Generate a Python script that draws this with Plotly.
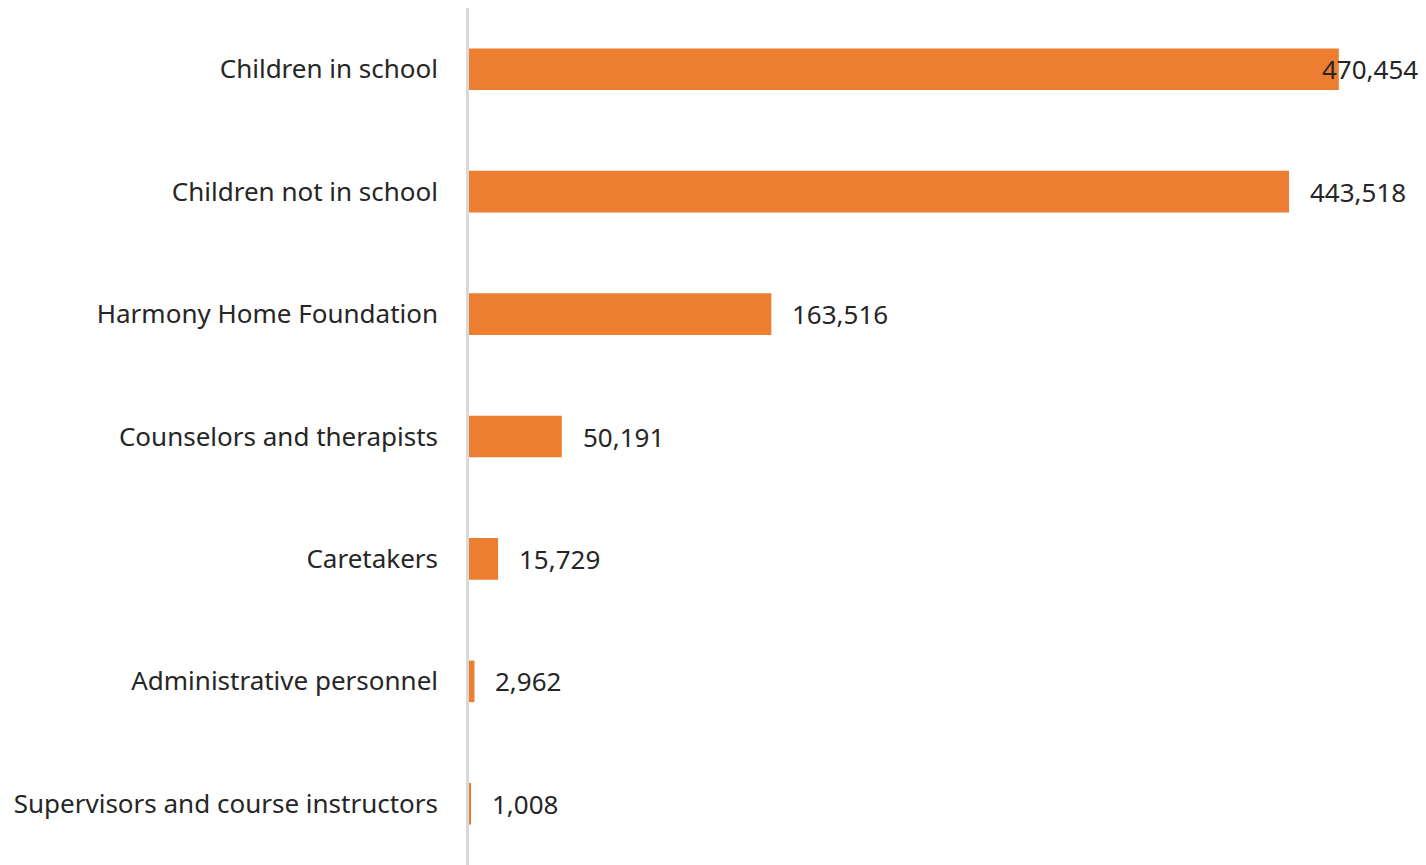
import plotly.graph_objects as go

categories = [
    "Children in school",
    "Children not in school",
    "Harmony Home Foundation",
    "Counselors and therapists",
    "Caretakers",
    "Administrative personnel",
    "Supervisors and course instructors",
]
values = [470454, 443518, 163516, 50191, 15729, 2962, 1008]
labels = ["470,454", "443,518", "163,516", "50,191", "15,729", "2,962", "1,008"]

FONT = "Noto Sans"
TEXT_COLOR = "#262626"

fig = go.Figure(
    go.Bar(
        y=categories,
        x=values,
        orientation="h",
        marker=dict(color="#ED7D31", line=dict(width=0)),
        hoverinfo="skip",
    )
)

annotations = []
for i, (c, v, t) in enumerate(zip(categories, values, labels)):
    annotations.append(
        dict(
            x=v, y=c, xref="x", yref="y", text=t, showarrow=False,
            xanchor="left", yanchor="middle",
            xshift=(-19 if i == 0 else 19),
            font=dict(family=FONT, size=26, color=TEXT_COLOR),
        )
    )

fig.update_layout(
    width=1418, height=857,
    margin=dict(l=461, r=0, t=0, b=0),
    plot_bgcolor="white", paper_bgcolor="white",
    bargap=0.66,
    showlegend=False,
    annotations=annotations,
    font=dict(family=FONT, size=26, color=TEXT_COLOR),
)
fig.update_xaxes(range=[0, 517600], visible=False, showgrid=False, zeroline=False)
fig.update_yaxes(
    categoryorder="array", categoryarray=categories, autorange="reversed",
    showline=True, linecolor="#d9d9d9", linewidth=2.5,
    ticks="", showgrid=False, zeroline=False,
    ticklabelstandoff=23,
    tickfont=dict(family=FONT, size=26, color=TEXT_COLOR),
)

fig.write_html("out.html")
